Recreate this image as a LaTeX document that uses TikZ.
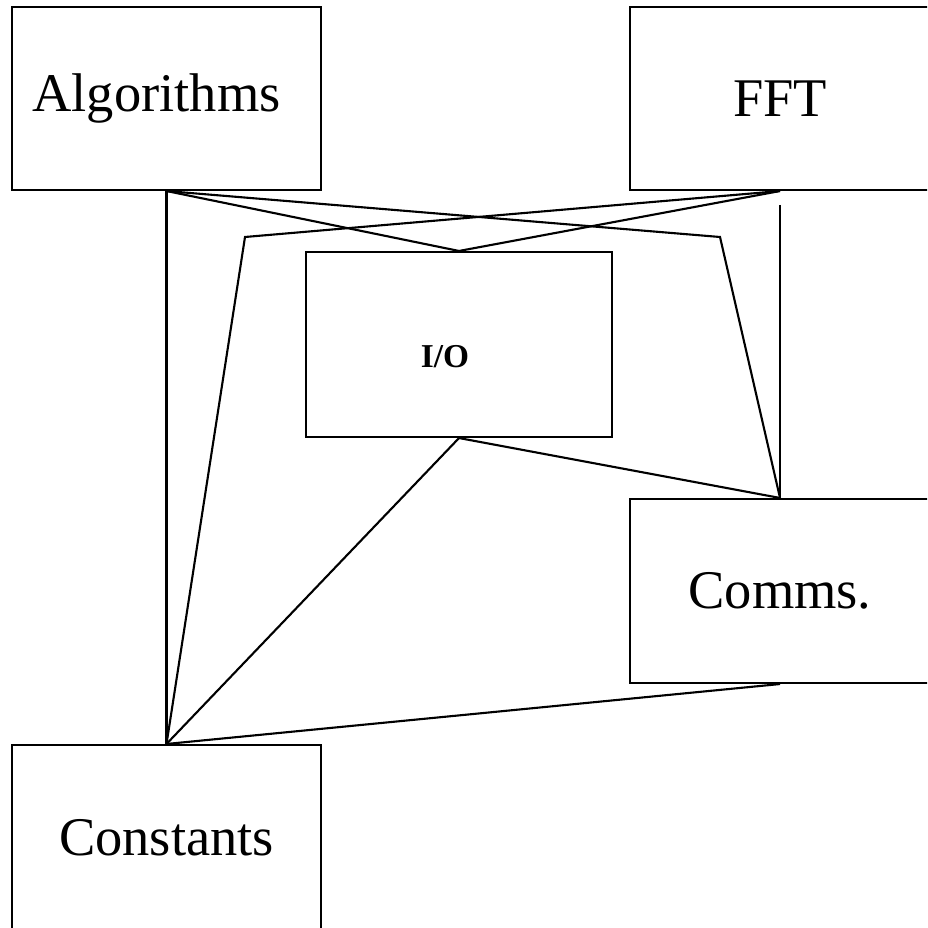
\documentclass[tikz,border=0pt]{standalone}
\usepackage{fontspec}
\setmainfont{Liberation Serif}
\usetikzlibrary{positioning}
\tikzset{
  unit/.style={draw,line width=1.2pt,minimum width=6.18cm,minimum height=3.66cm,inner sep=0pt,font=\fontsize{31}{37}\selectfont},
  link/.style={line width=1.2pt}
}
\begin{document}
\begin{tikzpicture}[x=0.02cm,y=-0.02cm]
  \useasboundingbox (0,0) rectangle (927,928);
  \clip (0,0) rectangle (927,928);
  % Boxes
  \node[unit] (alg) at (166.5,98.5) {\kern-0.4cm Algorithms};
  \node[unit,minimum width=6cm] (fft) at (780,98.5) {FFT};
  \node[unit,minimum width=6.12cm,minimum height=3.7cm,text height=1cm,text depth=0.08cm,
        font=\fontsize{19}{23}\selectfont\bfseries] (io) at (459,344.5) {\kern-0.56cm I/O};
  \node[unit,minimum width=6cm,minimum height=3.68cm] (comms) at (780,591) {Comms.};
  \node[unit,minimum height=3.7cm] (const) at (166.5,837.5) {Constants};
  % Bends
  \coordinate (lbend) at (245,237);
  \coordinate (rbend) at (720,237);
  \coordinate (stub) at (780,205);
  % Links from the top boxes
  \draw[link] (alg.south) -- (const.north);
  \draw[link] (alg.south) -- (io.north);
  \draw[link] (alg.south) -- (rbend) -- (comms.north);
  \draw[link] (fft.south) -- (io.north);
  \draw[link] (fft.south) -- (lbend) -- (const.north);
  \draw[link] (stub) -- (comms.north);
  % Links from the lower boxes
  \draw[link] (io.south) -- (const.north);
  \draw[link] (io.south) -- (comms.north);
  \draw[link] (comms.south) -- (const.north);
\end{tikzpicture}
\end{document}
